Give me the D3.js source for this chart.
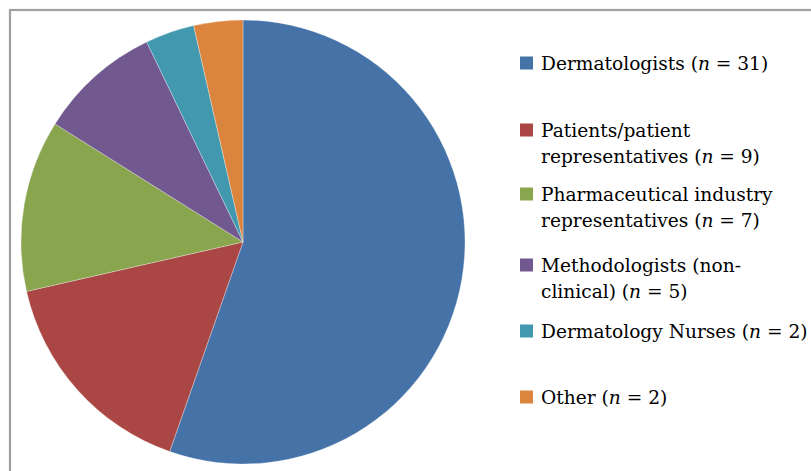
<!DOCTYPE html>
<html><head><meta charset="utf-8">
<script src="https://cdnjs.cloudflare.com/ajax/libs/d3/7.8.5/d3.min.js"></script>
<style>body{margin:0;background:#fff}svg{display:block}</style>
</head><body><svg id="c" width="811" height="471"></svg>
<script>
const categories = ["Dermatologists", "Patients/patient representatives", "Pharmaceutical industry representatives", "Methodologists (non-clinical)", "Dermatology Nurses", "Other"];
const values = [31, 9, 7, 5, 2, 2];
const colors = ["#4572A7", "#AA4643", "#89A54E", "#71588F", "#4198AF", "#DB843D"];
const legendLines = [
  ["Dermatologists (|n| = 31)"],
  ["Patients/patient", "representatives (|n| = 9)"],
  ["Pharmaceutical industry", "representatives (|n| = 7)"],
  ["Methodologists (non-", "clinical) (|n| = 5)"],
  ["Dermatology Nurses (|n| = 2)"],
  ["Other (|n| = 2)"]
];
const legendY = [63, 130, 194, 265, 331, 397];

const svg = d3.select("#c");
svg.append("rect").attr("x", 10).attr("y", 10).attr("width", 820).attr("height", 480)
  .attr("fill", "none").attr("stroke", "#A0A0A0").attr("stroke-width", 2.2);

const cx = 243, cy = 242, r = 222;
const pie = d3.pie().sort(null).value(d => d)(values);
const arc = d3.arc().innerRadius(0).outerRadius(r);
svg.append("g").attr("transform", `translate(${cx},${cy})`)
  .selectAll("path").data(pie).join("path")
  .attr("d", arc).attr("fill", (d, i) => colors[i])
  .attr("stroke", "#fff").attr("stroke-width", 0.5).attr("stroke-opacity", 0.6);

const lg = svg.append("g");
const fs = 18.6, lh = 26.5;
categories.forEach((c, i) => {
  const y = legendY[i];
  lg.append("rect").attr("x", 520).attr("y", y - 6.5).attr("width", 13).attr("height", 13).attr("fill", colors[i]);
  legendLines[i].forEach((line, j) => {
    const t = lg.append("text").attr("x", 541).attr("y", y + j * lh).attr("dy", "0.35em")
      .attr("font-family", "DejaVu Serif").attr("font-size", fs).attr("fill", "#000");
    line.split("|").forEach((part, k) => {
      t.append("tspan").text(part).attr("font-style", k % 2 ? "italic" : "normal");
    });
  });
});
</script></body></html>
